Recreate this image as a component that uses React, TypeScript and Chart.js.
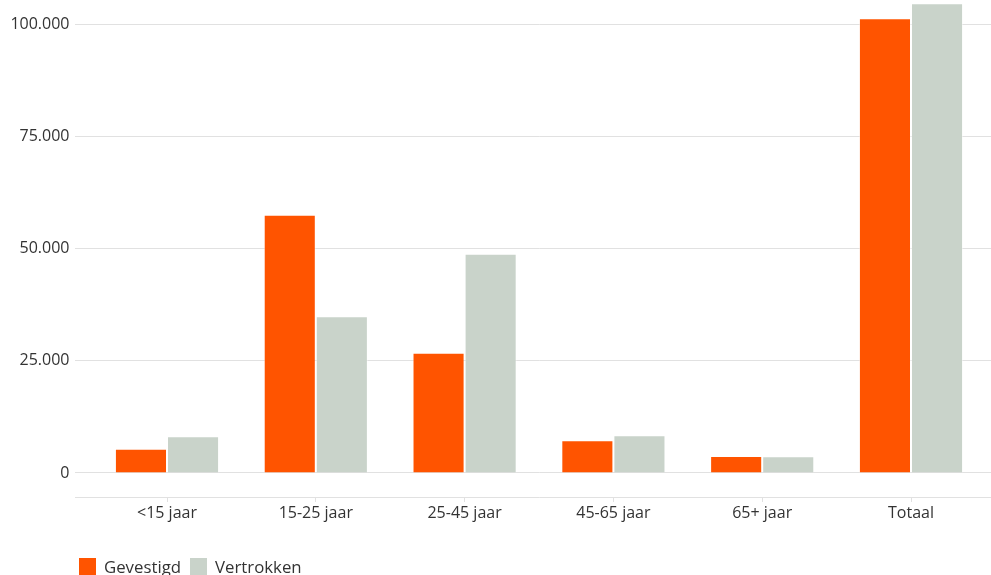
import React, { useEffect, useRef } from "react";
import { Chart, registerables } from "chart.js";

Chart.register(...registerables);

const categories = ["<15 jaar", "15-25 jaar", "25-45 jaar", "45-65 jaar", "65+ jaar", "Totaal"];
const gevestigd = [5400, 57500, 26800, 7300, 3800, 101300];
const vertrokken = [8200, 34900, 48800, 8400, 3700, 104600];
const yTickValues = [0, 25000, 50000, 75000, 100000];
const seriesNames = ["Gevestigd", "Vertrokken"];
const seriesColors = ["#ff5400", "#c9d3ca"];

const Y_MIN = -5357;
const Y_MAX = 101786;
const GRID = "#e1e1e1";
const TEXT = "#333333";
const FONT = "'Open Sans', sans-serif";

function fmt(v: number): string {
  return String(v).replace(/\B(?=(\d{3})+(?!\d))/g, ".");
}

function setTicks(scale: any) {
  scale.ticks = [Y_MIN, ...yTickValues].map((v) => ({ value: v }));
}

export default function App() {
  const ref = useRef<HTMLCanvasElement | null>(null);
  useEffect(() => {
    if (!ref.current) return;
    Chart.defaults.font.family = FONT;
    Chart.defaults.font.size = 16;
    Chart.defaults.color = TEXT;
    const chart = new Chart(ref.current, {
      type: "bar",
      data: {
        labels: categories,
        datasets: [gevestigd, vertrokken].map((d, i) => ({
          label: seriesNames[i],
          data: d,
          backgroundColor: seriesColors[i],
          borderColor: "rgba(255,255,255,0.45)",
          borderWidth: 1,
          categoryPercentage: 0.7,
          barPercentage: 1,
          clip: false as any,
        })),
      },
      options: {
        responsive: false,
        animation: false,
        devicePixelRatio: 1,
        layout: { padding: { left: 9.5, right: 0, top: 16, bottom: 48 } },
        plugins: {
          tooltip: { enabled: false },
          legend: { display: false },
        },
        scales: {
          x: {
            grid: {
              display: true,
              drawOnChartArea: false,
              drawTicks: true,
              tickLength: 5,
              offset: false,
              color: GRID,
            },
            border: { display: false },
            ticks: { padding: 2, color: TEXT, font: { size: 16 }, maxRotation: 0 },
            afterFit: (s: any) => {
              s.height = 30;
            },
          },
          y: {
            min: Y_MIN,
            max: Y_MAX,
            afterBuildTicks: setTicks,
            afterFit: (s: any) => {
              s.width = 83.1;
            },
            grid: { color: GRID, tickLength: 17.6, drawTicks: true },
            border: { display: false },
            ticks: {
              padding: 5.5,
              color: TEXT,
              font: { size: 16 },
              callback: (v: any) => (v === Y_MIN ? "" : fmt(Number(v))),
            },
          },
          y2: {
            position: "right",
            min: Y_MIN,
            max: Y_MAX,
            afterBuildTicks: setTicks,
            grid: { color: GRID, tickLength: 5.6, drawTicks: true, drawOnChartArea: false },
            border: { display: false },
            ticks: { display: false },
          },
        },
      },
    });
    return () => chart.destroy();
  }, []);
  return (
    <div style={{ position: "absolute", left: 0, top: 0, width: 991, height: 575, overflow: "hidden", background: "#fff" }}>
      <canvas ref={ref} width={991} height={575} style={{ display: "block" }} />
      <div
        style={{
          position: "absolute",
          left: 79,
          top: 558,
          display: "flex",
          alignItems: "center",
          fontFamily: FONT,
          fontSize: 16.8,
          color: TEXT,
          lineHeight: "17px",
          whiteSpace: "nowrap",
        }}
      >
        {seriesNames.map((n, i) => (
          <div key={n} style={{ display: "flex", alignItems: "center", marginRight: 9 }}>
            <span style={{ display: "inline-block", width: 17, height: 17, background: seriesColors[i], marginRight: 8 }} />
            <span>{n}</span>
          </div>
        ))}
      </div>
    </div>
  );
}
